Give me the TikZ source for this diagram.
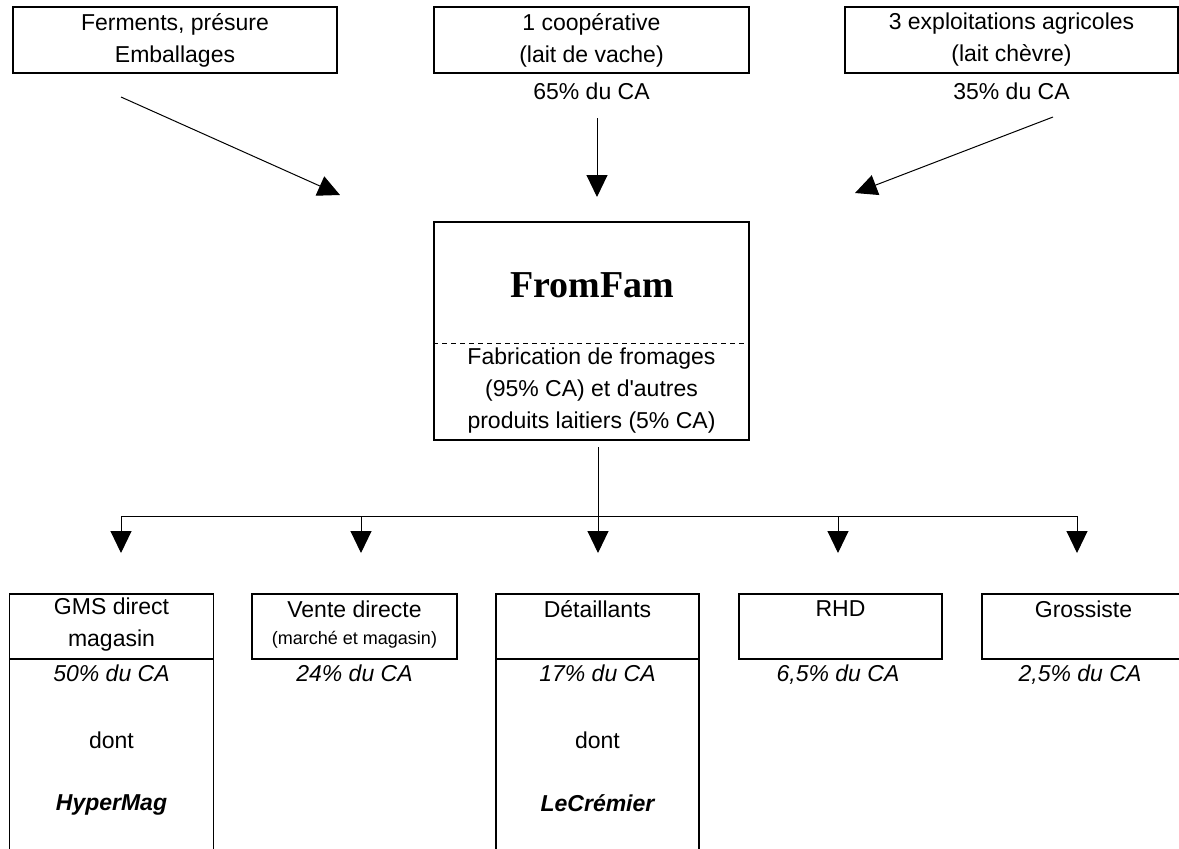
\documentclass[tikz,border=0pt]{standalone}
\usepackage{fontspec}
\setmainfont{Liberation Sans}
\newfontfamily\seriftitre{Liberation Serif}
\usetikzlibrary{arrows.meta}

\tikzset{
  boite/.style={draw, line width=0.6pt, inner sep=0pt},
  texte/.style={align=center, inner sep=0pt, font=\fontsize{11.5}{16}\selectfont},
  pourcent/.style={texte, text height=8.5pt, text depth=2.5pt, font=\fontsize{11.5}{16}\selectfont\itshape},
  nom/.style={texte, font=\fontsize{11.5}{16}\selectfont\bfseries\itshape},
  fleche/.style={line width=0.5pt, -{Triangle[length=11pt,width=10.5pt]}},
}

\begin{document}
\begin{tikzpicture}[x=0.5pt, y=-0.5pt]
  \clip (0,0) rectangle (1179,848);

  % fournisseurs
  \node[boite, texte, minimum width=162pt, minimum height=33pt] at (175,40) (ferments) {Ferments, présure\\Emballages};
  \node[boite, texte, minimum width=157.5pt, minimum height=33pt] at (591.5,40) (coop) {1 coopérative\\(lait de vache)};
  \node[boite, texte, minimum width=166.5pt, minimum height=33pt] at (1011.5,40) (chevre) {3 exploitations agricoles\\(lait chèvre)};
  \node[texte] at (591.5,91) (pctcoop) {65\% du CA};
  \node[texte] at (1011.5,91) (pctchevre) {35\% du CA};

  \coordinate (dep1) at (121,97);
  \coordinate (arr1) at (340,195);
  \coordinate (dep2) at (597,118);
  \coordinate (arr2) at (597,197);
  \coordinate (dep3) at (1053,117);
  \coordinate (arr3) at (855,193);
  \draw[fleche] (dep1) -- (arr1);
  \draw[fleche] (dep2) -- (arr2);
  \draw[fleche] (dep3) -- (arr3);

  % entreprise
  \node[boite, minimum width=157.5pt, minimum height=109pt] at (591.5,331) (fromfam) {};
  \coordinate (sep) at (0,343);
  \draw[line width=0.5pt, dash pattern=on 2.5pt off 2pt] (fromfam.west |- sep) -- (fromfam.east |- sep);
  \node[font=\seriftitre\bfseries\fontsize{19}{21}\selectfont] at (592,285) (titre) {FromFam};
  \node[texte] at (591.5,391) (fabrication) {Fabrication de fromages\\(95\% CA) et d\textquotesingle autres\\produits laitiers (5\% CA)};

  \coordinate (sortie) at (598,447);
  \coordinate (bus) at (598,516);
  \coordinate (busg) at (121,516);
  \coordinate (busd) at (1077,516);
  \draw[line width=0.5pt] (sortie) -- (bus);
  \draw[line width=0.5pt] (busg) -- (busd);
  \foreach \x [count=\i] in {121,361,598,838,1077} {
    \coordinate (haut\i) at (\x,516);
    \coordinate (bas\i) at (\x,553);
    \draw[fleche] (haut\i) -- (bas\i);
  }

  % clients
  \node[boite, minimum width=102pt, minimum height=32.5pt] at (111.5,626.5) (gms) {};
  \node[boite, minimum width=102pt, minimum height=106pt] at (111.5,765) (gmsbas) {};
  \node[boite, minimum width=102.5pt, minimum height=32.5pt] at (354.5,626.5) (vente) {};
  \node[boite, minimum width=101.5pt, minimum height=32.5pt] at (597.5,626.5) (detail) {};
  \node[boite, minimum width=101.5pt, minimum height=106pt] at (597.5,765) (detailbas) {};
  \node[boite, minimum width=101.5pt, minimum height=32.5pt] at (840.5,626.5) (rhd) {};
  \node[boite, minimum width=101.5pt, minimum height=32.5pt] at (1083.5,626.5) (gros) {};

  \node[texte] at (111.5,625) (gmstxt) {GMS direct\\magasin};
  \node[texte] at (354.5,609) (ventetxt) {Vente directe};
  \node[texte, font=\fontsize{9}{11}\selectfont] at (354.5,640) (ventedetail) {(marché et magasin)};
  \node[texte] at (597.5,609) (detailtxt) {Détaillants};
  \node[texte] at (840.5,609) (rhdtxt) {RHD};
  \node[texte] at (1083.5,609) (grostxt) {Grossiste};

  \node[pourcent] at (111.5,675) (pctgms) {50\% du CA};
  \node[pourcent] at (354.5,675) (pctvente) {24\% du CA};
  \node[pourcent] at (597.5,675) (pctdetail) {17\% du CA};
  \node[pourcent] at (838,675) (pctrhd) {6,5\% du CA};
  \node[pourcent] at (1080,675) (pctgros) {2,5\% du CA};

  \node[texte] at (111.5,740) (dontgms) {dont};
  \node[nom] at (111.5,805) (hypermag) {HyperMag};
  \node[texte] at (597.5,740) (dontdetail) {dont};
  \node[nom] at (597.5,803) (lecremier) {LeCrémier};
\end{tikzpicture}
\end{document}
